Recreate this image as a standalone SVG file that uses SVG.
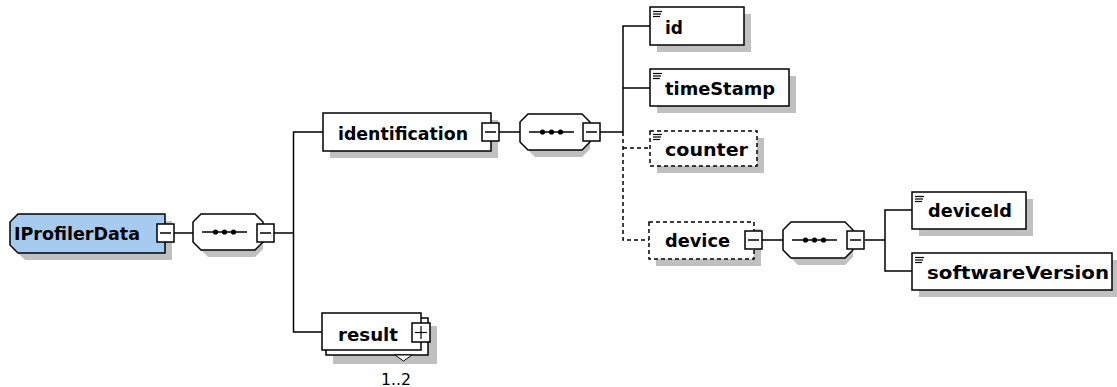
<svg xmlns="http://www.w3.org/2000/svg" width="1117" height="387" viewBox="0 0 1117 387">
<style>
.bg{fill:#fff}
.sh{fill:#c0c0c0;stroke:none}
.box{fill:#fff;stroke:#000;stroke-width:1.5}
.opt{fill:#fff;stroke:#000;stroke-width:1.5;stroke-dasharray:4,3}
.root{fill:#a6caf0;stroke:#000;stroke-width:1.5}
.ln{fill:none;stroke:#000;stroke-width:1.5}
.dln{fill:none;stroke:#000;stroke-width:1.5;stroke-dasharray:4,3}
.t{font-family:"DejaVu Sans",Verdana,sans-serif;font-weight:bold;font-size:18px;fill:#000}
.n{font-family:"DejaVu Sans",Verdana,sans-serif;font-size:16px;fill:#000}
.ic{fill:none;stroke:#000;stroke-width:1.2}
</style>
<defs>
<g id="minus"><rect x="0" y="0" width="17" height="18" class="box"/><line x1="3" y1="9" x2="14" y2="9" class="ln" stroke-width="1"/></g>
<g id="seq">
<path d="M15,7 H62 L70,15 V35 L62,43 H15 L7,35 V15 Z" class="sh"/>
<path d="M8,0 H62 L70,8 V28 L62,36 H8 L0,28 V8 Z" class="box"/>
<line x1="9" y1="18" x2="54" y2="18" class="ln" stroke-width="1.2"/>
<circle cx="22.5" cy="18" r="2.6"/><circle cx="31.5" cy="18" r="2.6"/><circle cx="40.5" cy="18" r="2.6"/>
</g>
<g id="icon"><line x1="3" y1="4.5" x2="12" y2="4.5" class="ic"/><line x1="3" y1="7" x2="11" y2="7" class="ic"/><line x1="3" y1="9.5" x2="10" y2="9.5" class="ic"/></g>
</defs>
<rect width="1117" height="387" class="bg"/>

<g id="connectors">
<line x1="173" y1="233" x2="193" y2="233" class="ln"/>
<line x1="274" y1="233" x2="294" y2="233" class="ln"/>
<polyline points="323,132 293.5,132 293.5,332 322,332" class="ln"/>
<line x1="499" y1="132" x2="520" y2="132" class="ln"/>
<line x1="600" y1="132" x2="623" y2="132" class="ln"/>
<polyline points="650,26 623,26 623,132" class="ln"/>
<line x1="623" y1="88" x2="650" y2="88" class="ln"/>
<polyline points="623,132 623,240 649,240" class="dln"/>
<line x1="623" y1="148" x2="650" y2="148" class="dln"/>
<line x1="762" y1="240" x2="783" y2="240" class="ln"/>
<line x1="865" y1="240" x2="885" y2="240" class="ln"/>
<polyline points="912,210 885,210 885,271 912,271" class="ln"/>
</g>

<g id="IProfilerData">
<path d="M25,221 H172 V260 H25 L17,252 V229 Z" class="sh"/>
<path d="M18,214 H165 V253 H18 L10,245 V222 Z" class="root"/>
<text x="14" y="239.5" class="t" textLength="126" lengthAdjust="spacingAndGlyphs">IProfilerData</text>
<use href="#minus" x="157" y="224"/>
</g>

<g id="seq1"><use href="#seq" x="193" y="214"/><use href="#minus" x="257" y="224"/></g>

<g id="identification">
<rect x="330" y="120" width="168" height="38" class="sh"/>
<rect x="323" y="113" width="168" height="38" class="box"/>
<text x="338" y="139.5" class="t" textLength="130" lengthAdjust="spacingAndGlyphs">identification</text>
<use href="#minus" x="482" y="123"/>
</g>

<g id="seq2"><use href="#seq" x="520" y="114"/><use href="#minus" x="583" y="123"/></g>

<g id="id">
<rect x="657" y="14" width="94" height="38" class="sh"/>
<rect x="650" y="7" width="94" height="38" class="box"/>
<use href="#icon" x="650" y="7"/>
<text x="665" y="33.5" class="t" textLength="18" lengthAdjust="spacingAndGlyphs">id</text>
</g>

<g id="timeStamp">
<rect x="657" y="76" width="139" height="37" class="sh"/>
<rect x="650" y="69" width="139" height="37" class="box"/>
<use href="#icon" x="650" y="69"/>
<text x="665" y="94.5" class="t" textLength="110" lengthAdjust="spacingAndGlyphs">timeStamp</text>
</g>

<g id="counter">
<rect x="657" y="138" width="107" height="35" class="sh"/>
<rect x="650" y="131" width="107" height="35" class="opt"/>
<use href="#icon" x="650" y="130"/>
<text x="665" y="155.5" class="t" textLength="83" lengthAdjust="spacingAndGlyphs">counter</text>
</g>

<g id="device">
<rect x="656" y="229" width="105" height="37" class="sh"/>
<rect x="649" y="222" width="105" height="37" class="opt"/>
<text x="665" y="246.5" class="t" textLength="65" lengthAdjust="spacingAndGlyphs">device</text>
<use href="#minus" x="745" y="231"/>
</g>

<g id="seq3"><use href="#seq" x="783" y="222"/><use href="#minus" x="847" y="231"/></g>

<g id="deviceId">
<rect x="919" y="199" width="114" height="37" class="sh"/>
<rect x="912" y="192" width="114" height="37" class="box"/>
<use href="#icon" x="912" y="192"/>
<text x="928" y="216.5" class="t" textLength="84" lengthAdjust="spacingAndGlyphs">deviceId</text>
</g>

<g id="softwareVersion">
<rect x="919" y="260" width="200" height="37" class="sh"/>
<rect x="912" y="253" width="200" height="37" class="box"/>
<use href="#icon" x="912" y="253"/>
<text x="927" y="278.5" class="t" textLength="182" lengthAdjust="spacingAndGlyphs">softwareVersion</text>
</g>

<g id="result">
<rect x="333" y="326" width="104" height="38" class="sh"/>
<rect x="326" y="318" width="102" height="37" class="box"/>
<rect x="322" y="313" width="99" height="37" class="box"/>
<polygon points="395,355 412,355 403.5,361" fill="#fff" stroke="#000" stroke-width="1"/>
<text x="338" y="340.5" class="t" textLength="60" lengthAdjust="spacingAndGlyphs">result</text>
<rect x="412" y="323" width="18" height="19" class="box"/>
<line x1="415" y1="332.5" x2="427" y2="332.5" stroke="#000" stroke-width="1.2"/>
<line x1="421" y1="326" x2="421" y2="339" stroke="#000" stroke-width="1.2"/>
<text x="381" y="385" class="n" textLength="30" lengthAdjust="spacingAndGlyphs">1..2</text>
</g>
</svg>
